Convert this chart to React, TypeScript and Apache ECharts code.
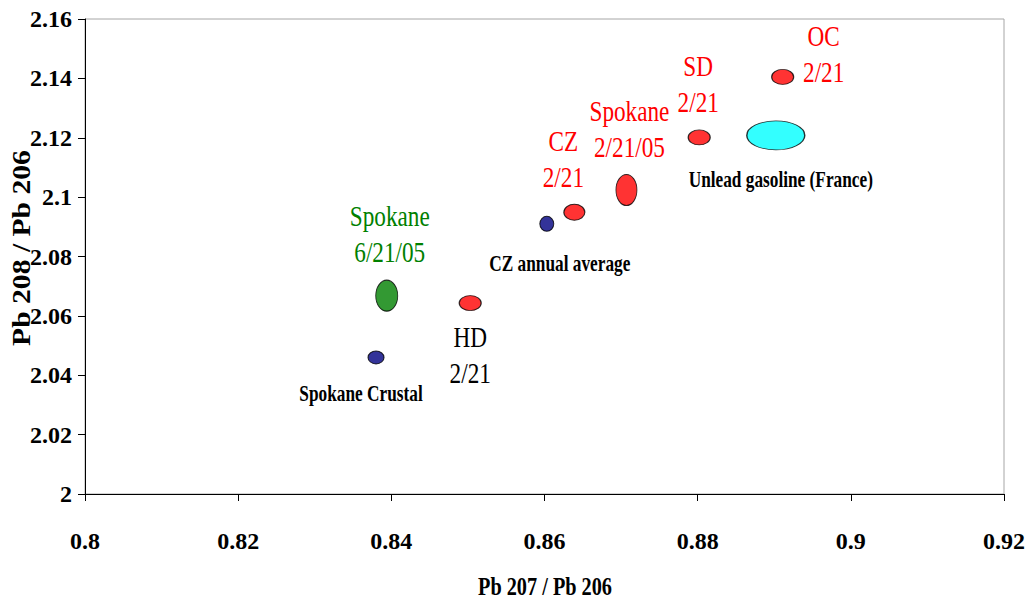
import React, { useEffect, useRef } from "react";
import * as echarts from "echarts";

// ---- data ----
const pointNames = [
  "Spokane Crustal",
  "Spokane 6/21/05",
  "HD 2/21",
  "CZ annual average",
  "CZ 2/21",
  "Spokane 2/21/05",
  "SD 2/21",
  "OC 2/21",
  "Unlead gasoline (France)",
];
const pb207_206 = [0.838, 0.8394, 0.8503, 0.8603, 0.8639, 0.8707, 0.8802, 0.8911, 0.8902];
const pb208_206 = [2.046, 2.0668, 2.0643, 2.091, 2.0949, 2.1024, 2.1201, 2.1405, 2.1208];
const labelTexts = [
  "Spokane Crustal",
  "Spokane\n6/21/05",
  "HD\n2/21",
  "CZ annual average",
  "CZ\n2/21",
  "Spokane\n2/21/05",
  "SD\n2/21",
  "OC\n2/21",
  "Unlead gasoline (France)",
];
const xTicks = { min: 0.8, max: 0.92, interval: 0.02 };
const yTicks = { min: 2, max: 2.16, interval: 0.02 };
const xAxisTitle = "Pb 207 / Pb 206";
const yAxisTitle = "Pb 208 / Pb 206";

// ---- styles ----
const markerColors = ["#000080", "#008000", "#ff0000", "#000080", "#ff0000", "#ff0000", "#ff0000", "#ff0000", "#00ffff"];
const markerSizes = [[16, 13], [22, 31], [22, 15], [14, 15], [21, 16], [21, 31], [22, 15], [22, 15], [58, 29]];
const labelOffsets = [[-15, 36], [3, -61], [0, 53], [13, 39], [-11, -53], [3, -60], [-1, -53], [41, -22], [5, 44]];
const boldSmall = { size: 24, weight: "bold", scale: 0.72, lineHeight: 28 };
const regularBig = { size: 29, weight: "normal", scale: 0.8, lineHeight: 36 };
const labelKinds = [boldSmall, regularBig, regularBig, boldSmall, regularBig, regularBig, regularBig, regularBig, boldSmall];
const labelColors = ["#000000", "#008000", "#000000", "#000000", "#ff0000", "#ff0000", "#ff0000", "#ff0000", "#000000"];
const FONT = "'Liberation Serif', 'Times New Roman', serif";
const ELLIPSE = "path://M0,50 A50,50 0 1,1 100,50 A50,50 0 1,1 0,50 Z";

const fmt = (v: number) => String(+v.toFixed(2));

export default function App() {
  const ref = useRef<HTMLDivElement>(null);
  useEffect(() => {
    if (!ref.current) return;
    const chart = echarts.init(ref.current, null, { renderer: "svg" });
    const axisCommon = {
      type: "value",
      splitLine: { show: false },
      axisLine: { show: true, lineStyle: { color: "#000", width: 1 } },
      axisTick: { show: true, inside: false, length: 7, lineStyle: { color: "#000", width: 1 } },
    };
    chart.setOption({
      animation: false,
      backgroundColor: "#ffffff",
      grid: {
        left: 85,
        right: 23,
        top: 19,
        bottom: 106,
        show: true,
        borderColor: "#a6a6a6",
        borderWidth: 1,
        backgroundColor: "transparent",
      },
      xAxis: {
        ...axisCommon,
        min: xTicks.min,
        max: xTicks.max,
        interval: xTicks.interval,
        axisLabel: {
          margin: 35,
          color: "#000",
          fontFamily: FONT,
          fontWeight: "bold",
          fontSize: 24,
          formatter: fmt,
          showMaxLabel: true,
          showMinLabel: true,
        },
      },
      yAxis: {
        ...axisCommon,
        min: yTicks.min,
        max: yTicks.max,
        interval: yTicks.interval,
        axisLabel: {
          margin: 13,
          color: "#000",
          fontFamily: FONT,
          fontWeight: "bold",
          fontSize: 24,
          formatter: fmt,
        },
      },
      series: [
        {
          type: "scatter",
          symbol: ELLIPSE,
          data: pb207_206.map((x, i) => ({
            name: pointNames[i],
            value: [x, pb208_206[i]],
            symbolSize: markerSizes[i],
            itemStyle: { color: markerColors[i], borderColor: "#000", borderWidth: 1 },
          })),
        },
      ],
    });

    const graphics: any[] = labelTexts.map((t, i) => {
      const p = chart.convertToPixel({ seriesIndex: 0 }, [pb207_206[i], pb208_206[i]]) as number[];
      const k = labelKinds[i];
      return {
        type: "text",
        x: p[0] + labelOffsets[i][0],
        y: p[1] + labelOffsets[i][1],
        scaleX: k.scale,
        z: 10,
        style: {
          text: t,
          fill: labelColors[i],
          fontFamily: FONT,
          fontSize: k.size,
          fontWeight: k.weight,
          lineHeight: k.lineHeight,
          align: "center",
          verticalAlign: "middle",
        },
      };
    });
    graphics.push({
      type: "text",
      x: 545,
      y: 586,
      scaleX: 0.78,
      style: {
        text: xAxisTitle,
        fill: "#000",
        fontFamily: FONT,
        fontSize: 26,
        fontWeight: "bold",
        align: "center",
        verticalAlign: "middle",
      },
    });
    graphics.push({
      type: "text",
      x: 21,
      y: 248,
      rotation: Math.PI / 2,
      scaleX: 1.14,
      style: {
        text: yAxisTitle,
        fill: "#000",
        fontFamily: FONT,
        fontSize: 26,
        fontWeight: "bold",
        align: "center",
        verticalAlign: "middle",
      },
    });
    chart.setOption({ graphic: graphics });
    return () => chart.dispose();
  }, []);
  return (
    <div
      ref={ref}
      style={{ position: "fixed", left: 0, top: 0, width: 1028, height: 600, background: "#fff" }}
    />
  );
}
